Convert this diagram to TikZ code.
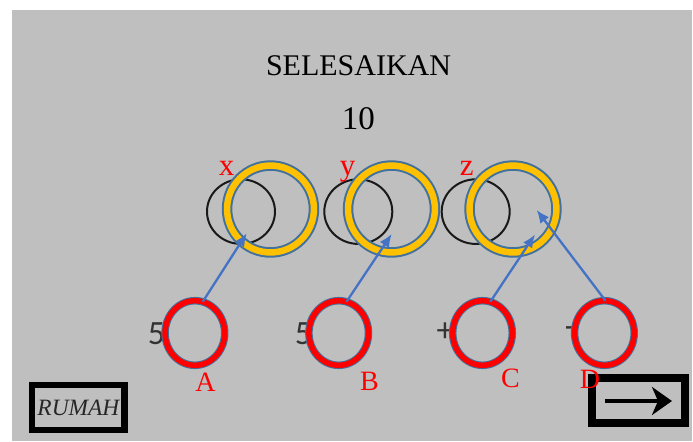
\documentclass[tikz,border=0pt]{standalone}
\usepackage{fontspec}
\setmainfont{Liberation Serif}
\newfontfamily\calibrifont{Carlito}
\usetikzlibrary{shapes.geometric,arrows.meta}
\definecolor{nenxam}{HTML}{BFBFBF}
\definecolor{vang}{HTML}{FFC000}
\definecolor{vien}{HTML}{41719C}
\definecolor{xanh}{HTML}{4472C4}

\begin{document}
\begin{tikzpicture}[x=0.5pt, y=-0.5pt,
    vongden/.style={ellipse, draw=black!90, line width=1pt, minimum width=34pt, minimum height=32.3pt, inner sep=0pt},
    vongvang/.style={circle, draw=vien, line width=1pt, double=vang, double distance=3.25pt, minimum size=43.45pt, inner sep=0pt, outer sep=0pt},
    vongdo/.style={ellipse, draw=vien, line width=0.5pt, double=red, double distance=2.75pt, minimum width=29.8pt, minimum height=32.3pt, inner sep=0pt, outer sep=0pt},
    chuxyz/.style={text=red, font=\fontsize{15.5pt}{17pt}\selectfont, inner sep=0pt},
    chudo/.style={text=red, font=\fontsize{14pt}{16pt}\selectfont, inner sep=0pt},
    chuso/.style={text=black!80, font=\calibrifont\fontsize{17pt}{19pt}\selectfont, inner sep=0pt},
    nutbox/.style={draw=black, inner sep=0pt, minimum height=22.5pt},
    muiten/.style={draw=xanh, line width=1.15pt, -{Latex[length=6.5pt, width=5.5pt]}}]
    % Nền
    \fill[white] (0,0) rectangle (693,441);
    \useasboundingbox (0,0) rectangle (693,441);
    \fill[nenxam] (12,10) rectangle (692,441);

    % Tiêu đề
    \node[inner sep=0pt, font=\fontsize{15pt}{17pt}\selectfont] (tieude) at (358.5,66) {SELESAIKAN};
    \node[inner sep=0pt, font=\fontsize{16.5pt}{18pt}\selectfont] (muoi) at (358.5,119) {10};

    % Vòng tròn đen
    \node[vongden] (denx) at (241,211.6) {};
    \node[vongden] (deny) at (358.3,211.6) {};
    \node[vongden] (denz) at (475.7,211.6) {};

    % Vòng vàng x, y, z
    \node[vongvang] (vangx) at (270.5,209) {};
    \node[vongvang] (vangy) at (391.5,209) {};
    \node[vongvang] (vangz) at (513,209) {};
    \node[chuxyz] (nhanx) at (226.7,168.8) {x};
    \node[chuxyz] (nhany) at (347.5,171.7) {y};
    \node[chuxyz] (nhanz) at (466.7,168.8) {z};

    % Các số và dấu phía dưới
    \node[chuso] (so1) at (156.5,334) {5};
    \node[chuso] (so2) at (303.5,334) {5};
    \node[chuso] (cong) at (445,332.5) {+};
    \node[chuso] (tru) at (570,332) {-};

    % Vòng đỏ A, B, C, D
    \node[vongdo] (doA) at (194.9,333) {};
    \node[vongdo] (doB) at (338.7,333) {};
    \node[vongdo] (doC) at (482.5,333) {};
    \node[vongdo] (doD) at (604.4,333) {};

    % Nút RUMAH và nút tiếp
    \node[nutbox, line width=3.35pt, minimum width=46.4pt, text=black!85, font=\itshape\fontsize{11.7pt}{13pt}\selectfont] (rumah) at (78.4,407.5) {RUMAH};
    \node[nutbox, line width=3.75pt, minimum width=46.5pt] (tiep) at (638.5,400.5) {};
    \coordinate (dau) at (605,401);
    \coordinate (cuoi) at (672,401);
    \draw[line width=1.7pt, -{Stealth[length=10pt, width=14pt, inset=3pt]}] (dau) -- (cuoi);

    % Nhãn A, B, C, D
    \node[chudo] (nhanA) at (205.4,382.5) {A};
    \node[chudo] (nhanB) at (369.4,381.5) {B};
    \node[chudo] (nhanC) at (510.5,378) {C};
    \node[chudo] (nhanD) at (590,379) {D};

    % Mũi tên nối
    \coordinate (dinhx) at (246.7,233.3);
    \coordinate (dinhy) at (391.7,234);
    \coordinate (dinhzc) at (535,234.5);
    \coordinate (dinhzd) at (536.7,210);
    \draw[muiten] (doA.76) -- (dinhx);
    \draw[muiten] (doB.76) -- (dinhy);
    \draw[muiten] (doC.76) -- (dinhzc);
    \draw[muiten] (doD.88) -- (dinhzd);
\end{tikzpicture}
\end{document}
